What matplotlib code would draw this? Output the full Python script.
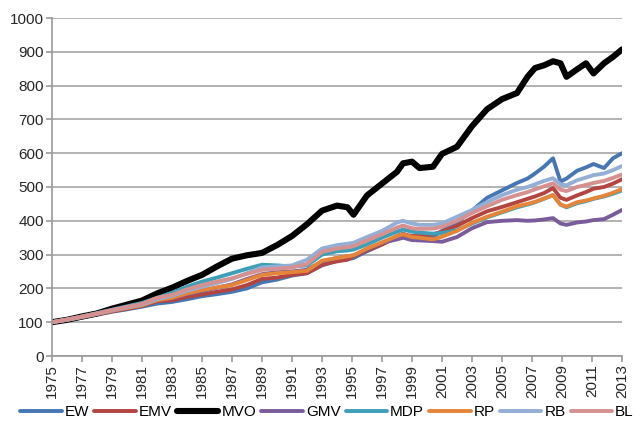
import matplotlib
matplotlib.use("Agg")
import matplotlib.pyplot as plt
from matplotlib import font_manager

dates = [1975, 1976, 1977, 1978, 1979, 1980, 1981, 1982, 1983, 1984, 1985, 1986, 1987, 1988,
         1989, 1990, 1991, 1992, 1993, 1994, 1994.7, 1995.1, 1996, 1997, 1998, 1998.4, 1999,
         1999.5, 2000.4, 2001, 2002, 2003, 2004, 2005, 2006, 2006.7, 2007.2, 2007.8, 2008.4,
         2008.9, 2009.3, 2010, 2010.6, 2011.1, 2011.8, 2012.4, 2013]

EW = [100, 106, 113, 122, 131, 138, 146, 155, 160, 168, 177, 183, 190, 200, 218, 226, 238, 245,
      268, 282, 286, 290, 310, 330, 355, 362, 350, 348, 352, 370, 395, 430, 468, 490, 512, 525,
      540, 560, 585, 516, 525, 548, 558, 568, 556, 585, 600]
EMV = [100, 107, 114, 123, 132, 140, 148, 162, 165, 175, 182, 190, 197, 210, 228, 232, 240, 245,
       270, 280, 285, 295, 312, 330, 352, 360, 355, 355, 360, 368, 385, 408, 428, 441, 455, 465,
       472, 482, 497, 468, 462, 475, 485, 495, 500, 510, 523]
MVO = [100, 107, 117, 126, 140, 152, 164, 185, 202, 222, 240, 265, 288, 298, 305, 328, 355, 390,
       430, 445, 440, 418, 475, 510, 545, 570, 575, 556, 560, 598, 619, 680, 730, 760, 778, 826,
       852, 860, 872, 866, 826, 848, 866, 836, 866, 885, 907]
GMV = [100, 108, 116, 125, 135, 143, 152, 165, 172, 183, 192, 202, 212, 228, 242, 248, 250, 255,
       280, 290, 295, 298, 315, 335, 345, 350, 343, 342, 340, 338, 352, 378, 396, 400, 402, 400,
       401, 404, 408, 392, 388, 395, 398, 402, 405, 418, 432]
MDP = [100, 108, 117, 127, 137, 147, 157, 172, 187, 205, 220, 232, 245, 258, 270, 268, 265, 268,
       300, 310, 312, 315, 330, 350, 368, 374, 368, 365, 362, 364, 372, 392, 410, 425, 440, 448,
       455, 465, 476, 448, 440, 452, 458, 465, 472, 480, 490]
RP = [100, 107, 115, 124, 134, 142, 150, 165, 172, 185, 195, 203, 210, 225, 240, 245, 248, 252,
      282, 290, 295, 298, 318, 336, 355, 360, 352, 350, 345, 353, 370, 394, 412, 427, 443, 450,
      456, 466, 476, 448, 442, 455, 460, 466, 474, 483, 494]
RB = [100, 107, 116, 125, 135, 144, 152, 168, 178, 193, 205, 216, 228, 245, 262, 265, 268, 285,
      318, 328, 332, 335, 352, 370, 395, 400, 392, 388, 388, 392, 412, 432, 455, 476, 492, 500,
      508, 518, 526, 508, 505, 520, 528, 535, 540, 550, 562]
BL = [100, 108, 117, 126, 136, 145, 154, 172, 181, 197, 210, 220, 230, 243, 255, 258, 262, 272,
      308, 318, 322, 325, 342, 360, 380, 386, 378, 376, 377, 382, 400, 423, 443, 462, 476, 485,
      493, 502, 511, 492, 488, 500, 506, 512, 518, 527, 537]

names = ["EW", "EMV", "MVO", "GMV", "MDP", "RP", "RB", "BL"]
series = [EW, EMV, MVO, GMV, MDP, RP, RB, BL]
colors = ["#4677b3", "#b3443f", "#000000", "#7b5c9b", "#3f9fb6", "#e5853a", "#94afd6", "#d69090"]
widths = [2.8, 2.8, 4.4, 2.8, 2.8, 2.8, 2.8, 2.8]

xticks = list(range(1975, 2014, 2))
yticks = list(range(0, 1001, 100))

fams = [f.name for f in font_manager.fontManager.ttflist]
fam = "Liberation Sans Narrow" if "Liberation Sans Narrow" in fams else "Liberation Sans"
plt.rcParams["font.family"] = [fam, "DejaVu Sans"]

fig = plt.figure(figsize=(6.44, 4.32), dpi=100)
ax = fig.add_axes([52/644, 1-356/432, 570/644, 338/432])

for n, s, c, w in zip(names, series, colors, widths):
    ax.plot(dates, s, color=c, lw=w, label=n, solid_capstyle="round", solid_joinstyle="round")

ax.set_xlim(1975, 2013)
ax.set_ylim(0, 1000)
ax.set_xticks(xticks)
ax.set_xticklabels([str(t) for t in xticks], rotation=90, fontsize=11, color="#262626")
ax.set_yticks(yticks)
ax.set_yticklabels([str(t) for t in yticks], fontsize=11, color="#262626")
ax.grid(axis="y", color="#a6a6a6", lw=1.2)
ax.set_axisbelow(True)
for sp in ["top", "right"]:
    ax.spines[sp].set_visible(False)
for sp in ["left", "bottom"]:
    ax.spines[sp].set_color("#999999")
    ax.spines[sp].set_linewidth(1.2)
ax.tick_params(axis="both", direction="out", length=4, color="#999999", width=1.2, pad=2)

fig.legend(loc="center", bbox_to_anchor=(327/644, 1-412/432), ncol=8, frameon=False,
           fontsize=11, handlelength=2.7, handletextpad=0.2, columnspacing=0.35,
           borderpad=0, borderaxespad=0)

fig.savefig("out.png", dpi=100)
